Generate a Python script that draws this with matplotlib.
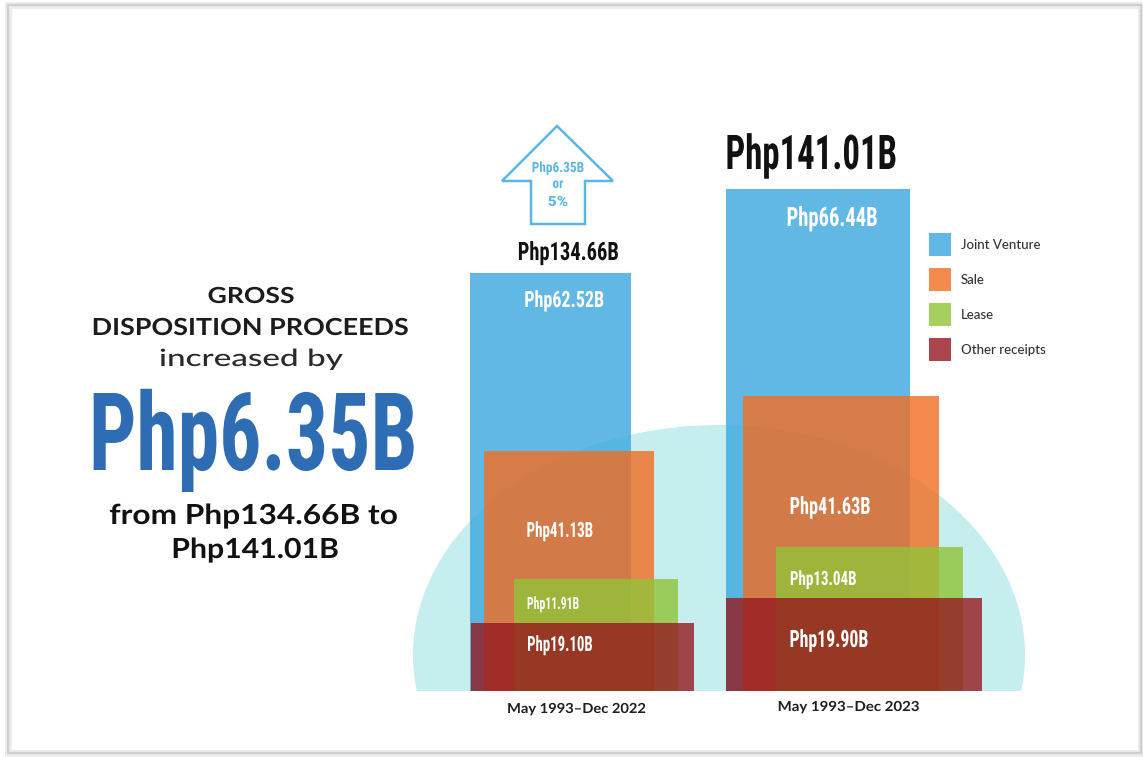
import matplotlib
matplotlib.use("Agg")
import matplotlib.pyplot as plt
from matplotlib.patches import Ellipse, Rectangle, Polygon
from matplotlib.patheffects import AbstractPathEffect
from matplotlib.transforms import Affine2D
from matplotlib.font_manager import FontProperties, fontManager, weight_dict
from matplotlib.textpath import TextPath

# ---------------- data ----------------
periods = ["May 1993\u2013Dec 2022", "May 1993\u2013Dec 2023"]
series_names = ["Joint Venture", "Sale", "Lease", "Other receipts"]
joint_venture = [62.52, 66.44]
sale = [41.13, 41.63]
lease = [11.91, 13.04]
other_receipts = [19.10, 19.90]
totals = [134.66, 141.01]
increase_b = 6.35
increase_pct = 5

# bar heights as drawn in the infographic (not to scale with the values)
jv_drawn = [418, 502]
sale_drawn = [240, 295]
lease_drawn = [112, 144]
other_drawn = [68, 93]

# ---------------- style / layout ----------------
W, H, DPI = 1143, 757, 100
C_JV = ("#3BA7DE", 0.80)
C_SALE = ("#F36D22", 0.80)
C_LEASE = ("#90C437", 0.80)
C_OTHER = ("#96191F", 0.80)
C_BG = "#C6EEEE"
C_ARROW = "#5DB5E5"
C_BIG = "#2E6CB4"


def wnum(w):
    if isinstance(w, (int, float)):
        return int(w)
    return weight_dict.get(w, 400)


def find_font(cands, target):
    fallback = None
    for c in cands:
        ents = [f for f in fontManager.ttflist
                if f.name == c and f.style == "normal" and f.stretch in ("normal", 500, "condensed", "semi-condensed")]
        if not ents:
            continue
        ents.sort(key=lambda f: abs(wnum(f.weight) - target))
        e = ents[0]
        if abs(wnum(e.weight) - target) <= 100:
            return (e.fname, wnum(e.weight), target)
        if fallback is None:
            fallback = (e.fname, wnum(e.weight), target)
    return fallback


SANS_C = ["Montserrat", "Gotham", "Lato", "Open Sans", "Inter", "Roboto", "DejaVu Sans"]
COND_C = ["Oswald", "Roboto Condensed", "Liberation Sans Narrow", "DejaVu Sans"]
F_SANS_B = find_font(SANS_C, 700)
F_SANS_M = find_font(SANS_C, 500)
F_COND_B = find_font(COND_C, 700)


class Squeeze(AbstractPathEffect):
    """Condense glyphs horizontally about the ink centre; optional faux-bold stroke."""

    def __init__(self, sx, stroke=0.0):
        super().__init__()
        self.sx = sx
        self.stroke = stroke

    def draw_path(self, renderer, gc, tpath, affine, rgbFace=None):
        ext = tpath.get_extents()
        cx = (ext.x0 + ext.x1) / 2.0
        t = Affine2D().translate(-cx, 0).scale(self.sx, 1.0).translate(cx, 0) + affine
        if self.stroke > 0 and rgbFace is not None:
            gc0 = renderer.new_gc()
            gc0.copy_properties(gc)
            gc0.set_linewidth(self.stroke)
            gc0.set_foreground(rgbFace)
            gc0.set_joinstyle("round")
            renderer.draw_path(gc0, tpath, t, rgbFace)
            gc0.restore()
        else:
            renderer.draw_path(gc, tpath, t, rgbFace)


fig = plt.figure(figsize=(W / DPI, H / DPI), dpi=DPI)
fig.patch.set_facecolor("white")


def fit_text(s, cx, base_y, width_px, cap_px, color, font, sx=None):
    fname, have_w, want_w = font
    fp1 = FontProperties(fname=fname, size=10)
    cap_em = TextPath((0, 0), "H", size=1, prop=fp1).get_extents().height
    size_px = cap_px / cap_em
    size_pt = size_px * 72.0 / DPI
    fp = FontProperties(fname=fname, size=size_pt)
    stroke = max(0, want_w - have_w) / 300.0 * 0.035 * size_pt
    if sx is None:
        ink = TextPath((0, 0), s, size=size_px, prop=fp).get_extents().width
        sx = (width_px - stroke * DPI / 72.0) / ink
    fig.text(cx / W, 1 - base_y / H, s, fontproperties=fp, color=color,
             ha="center", va="baseline", path_effects=[Squeeze(sx, stroke)], zorder=5)
    return sx


# ---------------- background decoration ----------------
bg = fig.add_axes([0, 0, 1, 1], zorder=0)
bg.set_xlim(0, W)
bg.set_ylim(H, 0)
bg.axis("off")

bg.add_patch(Rectangle((8, 5), 1133, 748, fill=False, ec="#ececec", lw=5))
bg.add_patch(Rectangle((8, 5), 1133, 748, fill=False, ec="#cfcfcf", lw=1.6))

clip = Rectangle((0, 0), W, 691, transform=bg.transData, visible=False)
bg.add_patch(clip)
ell = Ellipse((719, 655), 612, 460, fc=C_BG, ec="none")
bg.add_patch(ell)
ell.set_clip_path(clip)

arrow_pts = [(557, 126), (613, 181), (585, 181), (585, 224), (531, 224), (531, 181), (502, 181)]
bg.add_patch(Polygon(arrow_pts, closed=True, fill=False, ec=C_ARROW, lw=1.8, joinstyle="miter"))

# ---------------- bars ----------------
ax = fig.add_axes([400 / W, 1 - 691 / H, 640 / W, 571 / H], zorder=1)
ax.patch.set_alpha(0)
ax.axis("off")
UNIT = 256.0
ax.set_xlim((400 - 470) / UNIT, (1040 - 470) / UNIT)
ax.set_ylim(0, 571)

series_drawn = [jv_drawn, sale_drawn, lease_drawn, other_drawn]
series_colors = [C_JV, C_SALE, C_LEASE, C_OTHER]
offsets_px = [[0, 0], [14, 17], [44, 50], [1, 0]]
widths_px = [[161, 184], [170, 196], [164, 187], [223, 256]]

handles = []
for k, (hts, (col, al), offs, wds, nm) in enumerate(
        zip(series_drawn, series_colors, offsets_px, widths_px, series_names)):
    xs = [i + o / UNIT for i, o in enumerate(offs)]
    ws = [w / UNIT for w in wds]
    b = ax.bar(xs, hts, width=ws, align="edge", color=col, alpha=al,
               edgecolor="none", zorder=2 + k, label=nm)
    handles.append(b)

# legend: 22x23 px swatches, 35 px row pitch
LEG_PT = 9.5
f_px = LEG_PT * DPI / 72.0
hh = (23.0 / f_px - 0.245) / 0.65
leg = ax.legend(handles=handles, labels=series_names, loc="upper left",
                bbox_to_anchor=(929 / W, 1 - 233 / H), bbox_transform=fig.transFigure,
                frameon=False, borderpad=0, borderaxespad=0,
                prop=FontProperties(fname=F_SANS_M[0], size=LEG_PT),
                handlelength=22.0 / f_px, handleheight=hh, labelspacing=12.0 / f_px,
                handletextpad=10.0 / f_px)
for t in leg.get_texts():
    t.set_color("#333333")

# ---------------- texts ----------------
fmt = lambda v: f"Php{v:.2f}B"

# left block
fit_text("GROSS", 251, 303, 85, 16, "#1c1c1c", F_SANS_B)
fit_text("DISPOSITION PROCEEDS", 250, 335, 314, 17, "#1c1c1c", F_SANS_B)
fit_text("increased by", 251, 366, 182, 17, "#2a2a2a", F_SANS_M)
fit_text(f"Php{increase_b:.2f}B", 253, 470, 320, 77, C_BIG, F_COND_B)
fit_text(f"from {fmt(totals[0])} to", 253, 524, 287, 20, "#111111", F_SANS_B)
fit_text(fmt(totals[1]), 255, 558, 164, 20, "#111111", F_SANS_B)

# totals above bars
fit_text(fmt(totals[0]), 568, 260, 99, 18, "#111111", F_COND_B)
fit_text(fmt(totals[1]), 811, 169, 168, 34, "#111111", F_COND_B)

# arrow text
sxa = fit_text(f"Php{increase_b:.2f}B", 558, 172, 51, 10, C_ARROW, F_COND_B)
fit_text("or", 558, 188, 0, 10, C_ARROW, F_COND_B, sx=sxa)
fit_text(f"{increase_pct}%", 558, 206, 19, 10, C_ARROW, F_COND_B)

# values inside bars
label_pos = {
    "jv": [(564, 307, 78, 16), (832, 226, 89, 19)],
    "sale": [(560, 537, 65, 15), (830, 514, 79, 17)],
    "lease": [(553, 609, 51, 12), (823, 585, 65, 14)],
    "other": [(560, 651, 64, 15), (829, 647, 77, 17)],
}
for key, vals in [("jv", joint_venture), ("sale", sale), ("lease", lease), ("other", other_receipts)]:
    for v, (x, y, w, c) in zip(vals, label_pos[key]):
        fit_text(fmt(v), x, y, w, c, "white", F_COND_B)

# period labels
fit_text(periods[0], 577, 713, 137, 10, "#1e1e1e", F_SANS_B)
fit_text(periods[1], 849, 711, 140, 10, "#1e1e1e", F_SANS_B)

fig.savefig("out.png", dpi=DPI, facecolor="white")
